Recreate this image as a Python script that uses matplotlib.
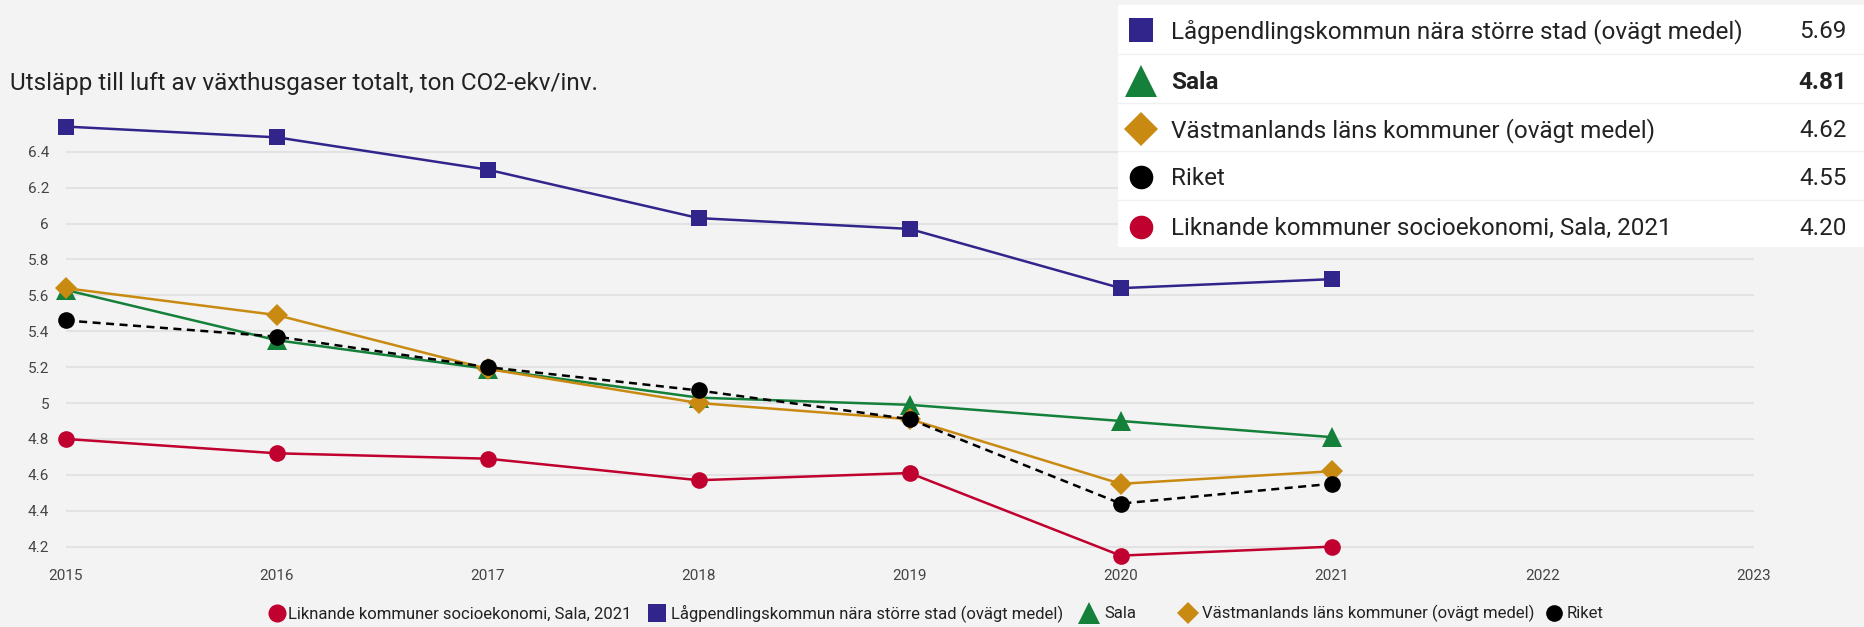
import numpy as np
import matplotlib
matplotlib.use("Agg")
import matplotlib.pyplot as plt
from matplotlib.lines import Line2D
from matplotlib.patches import Rectangle

plt.rcParams["font.family"] = ["Roboto", "DejaVu Sans"]

# utsläpp, ton CO2-ekv per invånare
years = [2015, 2016, 2017, 2018, 2019, 2020, 2021]
liknande = [4.80, 4.72, 4.69, 4.57, 4.61, 4.15, 4.20]
lagpendling = [6.54, 6.48, 6.30, 6.03, 5.97, 5.64, 5.69]
sala = [5.63, 5.35, 5.19, 5.03, 4.99, 4.90, 4.81]
vastmanland = [5.64, 5.49, 5.19, 5.00, 4.91, 4.55, 4.62]
riket = [5.46, 5.37, 5.20, 5.07, 4.91, 4.44, 4.55]

names = [
    "Liknande kommuner socioekonomi, Sala, 2021",
    "Lågpendlingskommun nära större stad (ovägt medel)",
    "Sala",
    "Västmanlands läns kommuner (ovägt medel)",
    "Riket",
]
x_ticks = list(range(2015, 2024))
y_ticks = [4.2, 4.4, 4.6, 4.8, 5, 5.2, 5.4, 5.6, 5.8, 6, 6.2, 6.4]

series = [liknande, lagpendling, sala, vastmanland, riket]
colors = ["#c0002e", "#31258c", "#14803a", "#c98a12", "#000000"]
markers = ["o", "s", "^", "D", "o"]
msizes = [12, 12, 15, 11, 12]
styles = ["-", "-", "-", "-", (0, (3.2, 2.2))]

W, H = 1864, 627
bg = "#f3f3f3"
fig = plt.figure(figsize=(W / 100, H / 100), dpi=100, facecolor=bg)


def fx(px):
    return px / W


def fy(py):
    return 1 - py / H


# plot area: 2015 at x=65.7px, 2023 at 1753.7px; y 6.6 at 115.8px, 4.1 at 564.6px
ax = fig.add_axes([fx(65.7), fy(564.6), (1753.7 - 65.7) / W, (564.6 - 115.8) / H])
ax.set_facecolor(bg)
ax.set_xlim(2015, 2023)
ax.set_ylim(4.1, 6.6)
for s in ax.spines.values():
    s.set_visible(False)
ax.set_xticks(x_ticks)
ax.set_xticklabels([str(t) for t in x_ticks])
ax.set_yticks(y_ticks)
ax.set_yticklabels([f"{t:g}" for t in y_ticks])
ax.tick_params(axis="both", length=0, labelsize=11, labelcolor="#444444")
ax.tick_params(axis="x", pad=3)
ax.tick_params(axis="y", pad=12)
ax.grid(axis="y", color="#e2e2e2", linewidth=1.5)
ax.set_axisbelow(True)

for i, vals in enumerate(series):
    ax.plot(years, vals, color=colors[i], linestyle=styles[i], linewidth=1.8,
            marker=markers[i], markersize=msizes[i], markeredgewidth=0,
            clip_on=False, zorder=3 + i)

fig.text(fx(10), fy(90), "Utsläpp till luft av växthusgaser totalt, ton CO2-ekv/inv.",
         fontsize=17.5, color="#222222", va="baseline", ha="left")

# tabell med senaste värdet, sorterad fallande
fig.patches.append(Rectangle((fx(1118), fy(247)), (W - 1118) / W, (247 - 5) / H,
                             transform=fig.transFigure, facecolor="white",
                             edgecolor="none", zorder=1))
order = sorted(range(len(series)), key=lambda k: series[k][-1], reverse=True)
row_y = [30, 81, 129, 177, 227]
box_ms = [17, 17, 23, 17, 17]
for r, k in enumerate(order):
    cy = row_y[r]
    fig.add_artist(Line2D([fx(1141)], [fy(cy)], marker=markers[k],
                          markersize=box_ms[k], color=colors[k],
                          markeredgewidth=0, transform=fig.transFigure))
    weight = "bold" if names[k] == "Sala" else "normal"
    fig.text(fx(1171), fy(cy + 8), names[k], fontsize=17.5, color="#222222",
             va="baseline", ha="left", fontweight=weight)
    fig.text(fx(1847), fy(cy + 8), f"{series[k][-1]:.2f}", fontsize=17.5,
             color="#222222", va="baseline", ha="right", fontweight=weight)
    if r < len(order) - 1:
        sep = (row_y[r] + row_y[r + 1]) / 2 - 2
        fig.add_artist(Line2D([fx(1118), 1], [fy(sep), fy(sep)], color="#f0f0f0",
                              linewidth=1, transform=fig.transFigure))

# förklaring under diagrammet
leg_marker_x = [276.5, 656.5, 1089, 1187.5, 1553.5]
leg_text_x = [288, 671, 1104, 1202, 1567]
leg_ms = [13, 13, 16, 11, 12]
for k in range(len(series)):
    fig.add_artist(Line2D([fx(leg_marker_x[k])], [fy(612.5)], marker=markers[k],
                          markersize=leg_ms[k], color=colors[k],
                          markeredgewidth=0, transform=fig.transFigure))
    fig.text(fx(leg_text_x[k]), fy(618.5), names[k], fontsize=12, color="#222222",
             va="baseline", ha="left")

fig.savefig("out.png", dpi=100, facecolor=bg)
